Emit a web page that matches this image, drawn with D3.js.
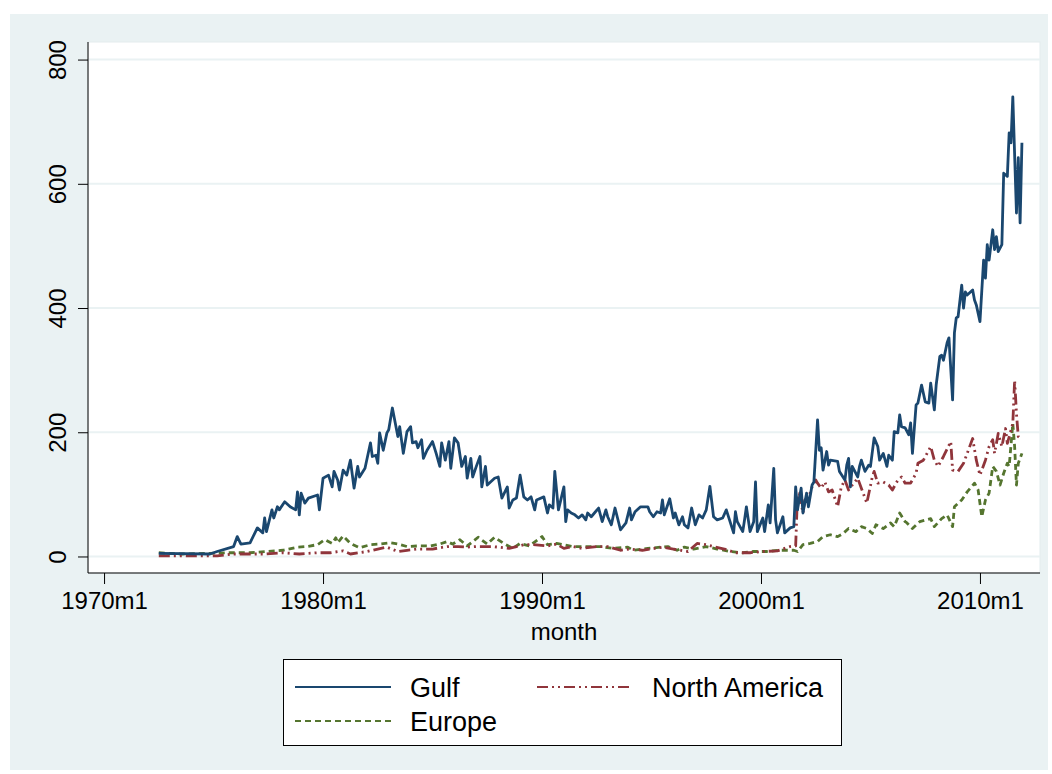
<!DOCTYPE html>
<html>
<head>
<meta charset="utf-8">
<script src="https://cdn.jsdelivr.net/npm/d3@7"></script>
<style>
  body { margin: 0; background: #fff; }
  text { font-family: "Liberation Sans", Arial, sans-serif; fill: #000; }
</style>
</head>
<body>
<svg id="chart" width="1052" height="774"></svg>
<script>
// months are counted from 1970m1 (0 = 1970m1)
var tickMonths = [0, 120, 240, 360, 480];
var tickLabels = ["1970m1", "1980m1", "1990m1", "2000m1", "2010m1"];
var yTicks = [0, 200, 400, 600, 800];

var gulfMonth = [30,58,62,71,73,75,80,84,87,88,89,92,93,95,96,99,102,105,106,107,108,110,112,117,118,120,123,125,126,128,129,131,133,135,137,139,140,143,146,147,149,150,151,153,155,156,158,161,162,164,166,168,169,171,172,174,175,177,180,182,184,185,187,189,190,192,194,196,198,199,201,202,204,206,207,209,210,214,216,218,221,222,224,226,228,230,232,234,236,237,241,243,244,246,247,249,252,253,254,256,258,260,262,264,265,267,271,273,275,276,278,280,283,286,288,289,291,294,298,299,301,303,305,306,307,310,312,313,315,317,318,320,322,324,326,328,330,332,334,336,339,341,345,346,347,350,351,352,354,356,357,358,361,362,364,365,367,368,369,372,373,376,378,379,380,382,383,385,386,388,389,391,392,393,394,396,397,398,402,403,406,407,408,409,410,413,414,415,417,419,420,422,424,425,427,429,430,432,433,435,436,437,439,441,442,443,445,446,448,450,452,453,455,456,458,459,460,462,463,465,466,467,468,470,471,472,473,476,477,478,480,482,483,484,485,487,488,489,490,492,493,495,496,497,498,500,501,502,503];
var gulfValue = [5,4,8,16,32,20,22,46,38,62,40,75,62,80,75,88,80,75,104,67,102,86,94,99,75,126,131,112,137,123,107,139,131,155,110,145,128,142,183,161,163,150,199,171,199,204,239,193,209,166,201,209,183,185,175,188,158,171,185,166,145,183,155,185,142,191,183,145,161,126,158,128,145,161,112,145,115,126,128,94,112,78,91,94,131,96,91,96,75,91,96,70,83,78,137,75,112,56,75,70,67,62,67,59,70,64,78,56,75,64,51,78,43,54,78,59,72,80,80,72,64,72,70,91,67,93,62,70,51,64,51,46,78,51,67,62,75,113,64,59,62,75,38,72,56,40,59,80,40,56,120,40,62,40,83,54,142,59,38,64,38,46,48,112,75,110,70,102,80,115,120,220,171,175,139,169,147,155,153,137,123,147,158,112,145,128,145,155,137,147,145,191,177,155,166,145,163,155,201,199,228,209,207,196,215,166,244,247,276,249,247,279,236,276,322,324,316,344,352,252,360,384,386,437,400,426,421,429,413,405,378,477,448,502,477,526,494,515,491,502,617,612,682,666,740,553,642,537,666];

var naMonth = [30,62,71,89,98,107,117,124,131,135,144,150,155,161,166,172,180,188,194,199,204,213,222,230,235,243,248,252,257,262,270,276,283,288,295,306,312,320,325,330,335,340,346,354,361,369,376,379,380,381,383,384,386,388,390,391,393,395,397,399,402,404,406,408,410,413,415,418,421,422,424,427,430,432,435,437,439,442,445,446,449,453,455,457,460,464,465,468,471,473,476,478,480,483,485,487,488,490,492,494,495,498,499,500,501,503];
var naValue = [1,1,4,4,6,4,6,6,9,4,8,12,15,8,10,12,12,16,16,15,16,16,13,19,19,17,20,13,16,13,16,16,10,12,10,15,12,8,21,19,15,12,6,6,8,9,16,17,99,102,70,91,94,112,123,118,110,120,104,107,80,112,123,107,115,126,110,86,128,137,118,120,115,107,123,128,118,118,134,150,155,177,155,145,161,185,139,137,150,166,190,155,131,155,177,188,166,198,177,206,182,214,284,230,193,188];

var euMonth = [30,43,58,67,80,89,98,106,111,117,121,125,127,128,131,135,140,146,151,157,161,166,172,179,184,188,191,195,199,205,210,214,219,224,228,233,240,243,248,257,265,272,279,287,290,298,305,309,314,318,323,330,336,343,350,356,363,370,378,380,383,387,391,394,398,402,405,408,412,415,418,421,423,427,431,433,436,439,440,443,447,453,455,459,462,465,466,470,473,477,479,481,483,485,487,489,491,493,495,496,498,499,500,501,503];
var euValue = [6,4,5,6,6,8,10,15,16,19,27,21,30,22,33,21,14,19,20,22,20,16,17,17,20,24,20,27,17,31,20,31,21,13,21,17,32,19,21,16,16,16,13,15,10,13,15,16,10,15,12,16,12,8,6,8,8,10,10,8,19,21,24,32,35,32,37,45,40,48,45,37,51,45,54,48,70,56,54,45,56,61,48,61,67,48,80,91,104,118,107,64,91,102,145,137,115,134,150,145,214,177,115,150,166];

var seriesNames = ["Gulf", "North America", "Europe"];
var seriesColors = ["#1a476f", "#90353b", "#55752f"];
var seriesDash = [null, "11,4,2,4,2,4", "6,4"];

var svg = d3.select("#chart");

// outer graph region
svg.append("rect")
  .attr("x", 10).attr("y", 14)
  .attr("width", 1038).attr("height", 756)
  .attr("fill", "#eaf2f3");

var plotL = 88, plotR = 1040, plotT = 42, plotB = 573;

svg.append("rect")
  .attr("x", plotL).attr("y", plotT)
  .attr("width", plotR - plotL).attr("height", plotB - plotT)
  .attr("fill", "#fff")
  .attr("stroke", "#e3ecee")
  .attr("stroke-width", 1);

var x = d3.scaleLinear().domain([-8.8, 512.9]).range([plotL, plotR]);
var y = d3.scaleLinear().domain([-26.6, 828.3]).range([plotB, plotT]);

// grid
svg.append("g").selectAll("line")
  .data(yTicks)
  .enter().append("line")
    .attr("x1", plotL).attr("x2", plotR)
    .attr("y1", function(d) { return y(d); })
    .attr("y2", function(d) { return y(d); })
    .attr("stroke", "#eaf2f3")
    .attr("stroke-width", 2);

// y axis
var yAxis = d3.axisLeft(y).tickValues(yTicks).tickSize(10).tickPadding(0);
var gy = svg.append("g").attr("transform", "translate(" + plotL + ",0)").call(yAxis);
gy.select(".domain").attr("d", "M0," + plotT + "V" + plotB).attr("stroke", "#000");
gy.selectAll(".tick line").attr("stroke", "#000");
gy.selectAll(".tick text")
  .attr("font-size", 24)
  .attr("text-anchor", "middle")
  .attr("dy", null)
  .attr("x", null)
  .attr("transform", "translate(-22,0) rotate(-90)");

// x axis
var xAxis = d3.axisBottom(x).tickValues(tickMonths)
  .tickFormat(function(d, i) { return tickLabels[i]; })
  .tickSize(11).tickPadding(8);
var gx = svg.append("g").attr("transform", "translate(0," + plotB + ")").call(xAxis);
gx.select(".domain").attr("d", "M" + plotL + ",0H" + plotR).attr("stroke", "#000");
gx.selectAll(".tick line").attr("stroke", "#000");
gx.selectAll(".tick text").attr("font-size", 24);

svg.append("text")
  .attr("x", (plotL + plotR) / 2).attr("y", 640)
  .attr("text-anchor", "middle")
  .attr("font-size", 24)
  .text("month");

// lines
var line = d3.line()
  .x(function(d) { return x(d[0]); })
  .y(function(d) { return y(d[1]); });

var allSeries = [
  d3.zip(gulfMonth, gulfValue),
  d3.zip(naMonth, naValue),
  d3.zip(euMonth, euValue)
];

// draw Europe and North America under Gulf
[2, 1, 0].forEach(function(i) {
  svg.append("path")
    .datum(allSeries[i])
    .attr("d", line)
    .attr("fill", "none")
    .attr("stroke", seriesColors[i])
    .attr("stroke-width", 2.8)
    .attr("stroke-linejoin", "round")
    .attr("stroke-dasharray", seriesDash[i]);
});

// legend
var lg = svg.append("g");
lg.append("rect")
  .attr("x", 283.5).attr("y", 659.5)
  .attr("width", 558).attr("height", 86)
  .attr("fill", "#fff")
  .attr("stroke", "#000")
  .attr("stroke-width", 1);

var legendPos = [[295, 687], [537, 687], [295, 721]];
legendPos.forEach(function(p, i) {
  lg.append("line")
    .attr("x1", p[0]).attr("x2", p[0] + 96)
    .attr("y1", p[1]).attr("y2", p[1])
    .attr("stroke", seriesColors[i])
    .attr("stroke-width", 2.2)
    .attr("stroke-dasharray", seriesDash[i]);
  lg.append("text")
    .attr("x", p[0] + 115).attr("y", p[1] + 10)
    .attr("font-size", 27)
    .text(seriesNames[i]);
});
</script>
</body>
</html>
